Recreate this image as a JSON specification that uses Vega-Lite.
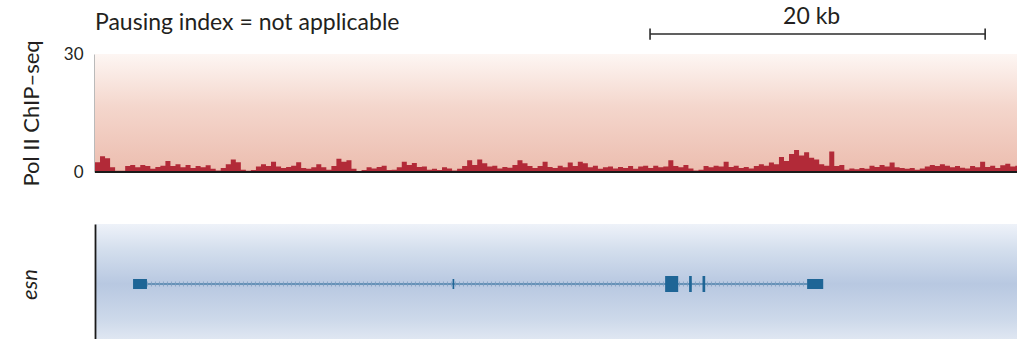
{
  "$schema": "https://vega.github.io/schema/vega-lite/v6.json",
  "background": "white",
  "padding": {"left": 18, "top": 6, "right": 0, "bottom": 0},
  "bounds": "flush",
  "spacing": 52,
  "config": {
    "font": "Lato",
    "view": {"stroke": null},
    "axis": {
      "grid": false,
      "ticks": false,
      "zindex": 1,
      "domainColor": "#1a1a1a",
      "domainWidth": 1.6,
      "labelColor": "#231f20",
      "titleColor": "#231f20",
      "labelFont": "Lato",
      "titleFont": "Lato",
      "labelFontSize": 17,
      "titleFontSize": 22,
      "titleFontWeight": "normal"
    }
  },
  "vconcat": [
    {
      "width": 922,
      "height": 118,
      "layer": [
        {
          "data": {"values": [{"start": 0, "end": 55, "low": 0, "high": 30}]},
          "mark": {
            "type": "rect",
            "fill": {
              "gradient": "linear",
              "x1": 0, "y1": 0, "x2": 0, "y2": 1,
              "stops": [
                {"offset": 0, "color": "#fdf6f3"},
                {"offset": 0.45, "color": "#f4d6cc"},
                {"offset": 1, "color": "#ecbdaf"}
              ]
            }
          },
          "encoding": {
            "x": {"field": "start", "type": "quantitative", "scale": {"domain": [0, 55]}, "axis": null},
            "x2": {"field": "end"},
            "y": {
              "field": "low", "type": "quantitative", "title": "Pol II ChIP–seq",
              "scale": {"domain": [0, 30]},
              "axis": {"values": [0, 30], "labelPadding": 12, "titlePadding": 20}
            },
            "y2": {"field": "high"}
          }
        },
        {
          "data": {"values": [
            {"pos": 0.0, "pol2": 2.5}, {"pos": 0.3, "pol2": 4.0}, {"pos": 0.6, "pol2": 3.5}, {"pos": 0.9, "pol2": 1.2},
            {"pos": 1.2, "pol2": 0.3}, {"pos": 1.5, "pol2": 0.3}, {"pos": 1.8, "pol2": 1.5}, {"pos": 2.1, "pol2": 1.8},
            {"pos": 2.4, "pol2": 1.2}, {"pos": 2.7, "pol2": 1.8}, {"pos": 3.0, "pol2": 1.5}, {"pos": 3.3, "pol2": 0.8},
            {"pos": 3.6, "pol2": 1.3}, {"pos": 3.9, "pol2": 1.6}, {"pos": 4.2, "pol2": 2.8}, {"pos": 4.5, "pol2": 1.5},
            {"pos": 4.8, "pol2": 2.0}, {"pos": 5.1, "pol2": 1.2}, {"pos": 5.4, "pol2": 1.8}, {"pos": 5.7, "pol2": 1.0},
            {"pos": 6.0, "pol2": 1.5}, {"pos": 6.3, "pol2": 1.2}, {"pos": 6.6, "pol2": 1.7}, {"pos": 6.9, "pol2": 0.8},
            {"pos": 7.2, "pol2": 0.4}, {"pos": 7.5, "pol2": 1.0}, {"pos": 7.8, "pol2": 2.0}, {"pos": 8.1, "pol2": 3.2},
            {"pos": 8.4, "pol2": 2.5}, {"pos": 8.7, "pol2": 0.6}, {"pos": 9.0, "pol2": 0.3}, {"pos": 9.3, "pol2": 0.5},
            {"pos": 9.6, "pol2": 1.4}, {"pos": 9.9, "pol2": 2.0}, {"pos": 10.2, "pol2": 1.5}, {"pos": 10.5, "pol2": 2.6},
            {"pos": 10.8, "pol2": 1.4}, {"pos": 11.1, "pol2": 1.0}, {"pos": 11.4, "pol2": 1.3}, {"pos": 11.7, "pol2": 1.6},
            {"pos": 12.0, "pol2": 2.5}, {"pos": 12.3, "pol2": 1.0}, {"pos": 12.6, "pol2": 0.8}, {"pos": 12.9, "pol2": 1.2},
            {"pos": 13.2, "pol2": 2.0}, {"pos": 13.5, "pol2": 1.2}, {"pos": 13.8, "pol2": 0.6}, {"pos": 14.1, "pol2": 1.5},
            {"pos": 14.4, "pol2": 3.4}, {"pos": 14.7, "pol2": 2.6}, {"pos": 15.0, "pol2": 3.0}, {"pos": 15.3, "pol2": 0.8},
            {"pos": 15.6, "pol2": 0.2}, {"pos": 15.9, "pol2": 0.5}, {"pos": 16.2, "pol2": 1.2}, {"pos": 16.5, "pol2": 0.9},
            {"pos": 16.8, "pol2": 1.3}, {"pos": 17.1, "pol2": 1.6}, {"pos": 17.4, "pol2": 0.5}, {"pos": 17.7, "pol2": 0.6},
            {"pos": 18.0, "pol2": 1.2}, {"pos": 18.3, "pol2": 2.6}, {"pos": 18.6, "pol2": 1.8}, {"pos": 18.9, "pol2": 2.3},
            {"pos": 19.2, "pol2": 1.3}, {"pos": 19.5, "pol2": 1.4}, {"pos": 19.8, "pol2": 0.6}, {"pos": 20.1, "pol2": 0.8},
            {"pos": 20.4, "pol2": 0.5}, {"pos": 20.7, "pol2": 1.2}, {"pos": 21.0, "pol2": 0.9}, {"pos": 21.3, "pol2": 0.4},
            {"pos": 21.6, "pol2": 0.8}, {"pos": 21.9, "pol2": 1.5}, {"pos": 22.2, "pol2": 3.0}, {"pos": 22.5, "pol2": 1.8},
            {"pos": 22.8, "pol2": 3.2}, {"pos": 23.1, "pol2": 2.2}, {"pos": 23.4, "pol2": 1.4}, {"pos": 23.7, "pol2": 1.6},
            {"pos": 24.0, "pol2": 0.9}, {"pos": 24.3, "pol2": 1.3}, {"pos": 24.6, "pol2": 1.1}, {"pos": 24.9, "pol2": 1.8},
            {"pos": 25.2, "pol2": 3.0}, {"pos": 25.5, "pol2": 2.2}, {"pos": 25.8, "pol2": 1.5}, {"pos": 26.1, "pol2": 1.0},
            {"pos": 26.4, "pol2": 1.5}, {"pos": 26.7, "pol2": 2.6}, {"pos": 27.0, "pol2": 1.3}, {"pos": 27.3, "pol2": 1.0},
            {"pos": 27.6, "pol2": 1.6}, {"pos": 27.9, "pol2": 1.2}, {"pos": 28.2, "pol2": 2.4}, {"pos": 28.5, "pol2": 1.5},
            {"pos": 28.8, "pol2": 2.6}, {"pos": 29.1, "pol2": 2.2}, {"pos": 29.4, "pol2": 1.2}, {"pos": 29.7, "pol2": 1.6},
            {"pos": 30.0, "pol2": 0.8}, {"pos": 30.3, "pol2": 1.2}, {"pos": 30.6, "pol2": 1.4}, {"pos": 30.9, "pol2": 0.9},
            {"pos": 31.2, "pol2": 1.3}, {"pos": 31.5, "pol2": 1.0}, {"pos": 31.8, "pol2": 1.5}, {"pos": 32.1, "pol2": 0.8},
            {"pos": 32.4, "pol2": 1.4}, {"pos": 32.7, "pol2": 1.6}, {"pos": 33.0, "pol2": 1.0}, {"pos": 33.3, "pol2": 1.6},
            {"pos": 33.6, "pol2": 1.2}, {"pos": 33.9, "pol2": 1.4}, {"pos": 34.2, "pol2": 3.0}, {"pos": 34.5, "pol2": 1.5},
            {"pos": 34.8, "pol2": 1.2}, {"pos": 35.1, "pol2": 1.8}, {"pos": 35.4, "pol2": 0.9}, {"pos": 35.7, "pol2": 0.4},
            {"pos": 36.0, "pol2": 0.6}, {"pos": 36.3, "pol2": 1.5}, {"pos": 36.6, "pol2": 1.2}, {"pos": 36.9, "pol2": 1.6},
            {"pos": 37.2, "pol2": 1.4}, {"pos": 37.5, "pol2": 2.6}, {"pos": 37.8, "pol2": 1.3}, {"pos": 38.1, "pol2": 1.6},
            {"pos": 38.4, "pol2": 1.0}, {"pos": 38.7, "pol2": 1.3}, {"pos": 39.0, "pol2": 0.9}, {"pos": 39.3, "pol2": 1.5},
            {"pos": 39.6, "pol2": 2.0}, {"pos": 39.9, "pol2": 1.6}, {"pos": 40.2, "pol2": 2.4}, {"pos": 40.5, "pol2": 2.0},
            {"pos": 40.8, "pol2": 3.8}, {"pos": 41.1, "pol2": 2.8}, {"pos": 41.4, "pol2": 4.6}, {"pos": 41.7, "pol2": 5.6},
            {"pos": 42.0, "pol2": 4.2}, {"pos": 42.3, "pol2": 5.0}, {"pos": 42.6, "pol2": 3.6}, {"pos": 42.9, "pol2": 3.2},
            {"pos": 43.2, "pol2": 2.0}, {"pos": 43.5, "pol2": 1.6}, {"pos": 43.8, "pol2": 5.2}, {"pos": 44.1, "pol2": 1.5},
            {"pos": 44.4, "pol2": 1.8}, {"pos": 44.7, "pol2": 0.6}, {"pos": 45.0, "pol2": 0.9}, {"pos": 45.3, "pol2": 0.7},
            {"pos": 45.6, "pol2": 1.0}, {"pos": 45.9, "pol2": 0.8}, {"pos": 46.2, "pol2": 1.6}, {"pos": 46.5, "pol2": 1.3},
            {"pos": 46.8, "pol2": 1.8}, {"pos": 47.1, "pol2": 1.4}, {"pos": 47.4, "pol2": 2.4}, {"pos": 47.7, "pol2": 1.2},
            {"pos": 48.0, "pol2": 1.0}, {"pos": 48.3, "pol2": 0.8}, {"pos": 48.6, "pol2": 1.0}, {"pos": 48.9, "pol2": 0.6},
            {"pos": 49.2, "pol2": 0.9}, {"pos": 49.5, "pol2": 1.4}, {"pos": 49.8, "pol2": 1.8}, {"pos": 50.1, "pol2": 1.5},
            {"pos": 50.4, "pol2": 2.0}, {"pos": 50.7, "pol2": 1.6}, {"pos": 51.0, "pol2": 1.2}, {"pos": 51.3, "pol2": 1.5},
            {"pos": 51.6, "pol2": 1.1}, {"pos": 51.9, "pol2": 0.9}, {"pos": 52.2, "pol2": 1.5}, {"pos": 52.5, "pol2": 1.2},
            {"pos": 52.8, "pol2": 2.6}, {"pos": 53.1, "pol2": 1.3}, {"pos": 53.4, "pol2": 1.6}, {"pos": 53.7, "pol2": 1.0},
            {"pos": 54.0, "pol2": 1.7}, {"pos": 54.3, "pol2": 2.1}, {"pos": 54.6, "pol2": 1.4}, {"pos": 54.9, "pol2": 1.6},
            {"pos": 55.2, "pol2": 1.6}
          ]},
          "mark": {"type": "area", "interpolate": "step-after", "color": "#ad1d2e", "opacity": 0.92, "clip": true},
          "encoding": {
            "x": {"field": "pos", "type": "quantitative"},
            "y": {"field": "pol2", "type": "quantitative", "title": "Pol II ChIP–seq"}
          }
        },
        {
          "data": {"values": [{"start": 0, "end": 55}]},
          "mark": {"type": "rule", "color": "#1a1a1a", "strokeWidth": 1.8},
          "encoding": {
            "x": {"field": "start", "type": "quantitative"},
            "x2": {"field": "end"},
            "y": {"datum": 0, "type": "quantitative", "title": "Pol II ChIP–seq"}
          }
        },
        {
          "data": {"values": [{"start": 0, "note": "Pausing index = not applicable"}]},
          "mark": {"type": "text", "align": "left", "baseline": "alphabetic", "fontSize": 23, "color": "#231f20"},
          "encoding": {
            "x": {"field": "start", "type": "quantitative"},
            "y": {"datum": 36.1, "type": "quantitative", "title": "Pol II ChIP–seq"},
            "text": {"field": "note"}
          }
        },
        {
          "data": {"name": "scalebar"},
          "mark": {"type": "rule", "color": "#2b2b2b", "strokeWidth": 1.6},
          "encoding": {
            "x": {"field": "start", "type": "quantitative"},
            "x2": {"field": "end"},
            "y": {"datum": 35.1, "type": "quantitative", "title": "Pol II ChIP–seq"}
          }
        },
        {
          "data": {"name": "scalebar"},
          "mark": {"type": "rule", "color": "#2b2b2b", "strokeWidth": 1.6},
          "encoding": {
            "x": {"field": "start", "type": "quantitative"},
            "y": {"datum": 33.6, "type": "quantitative", "title": "Pol II ChIP–seq"},
            "y2": {"datum": 36.5}
          }
        },
        {
          "data": {"name": "scalebar"},
          "mark": {"type": "rule", "color": "#2b2b2b", "strokeWidth": 1.6},
          "encoding": {
            "x": {"field": "end", "type": "quantitative"},
            "y": {"datum": 33.6, "type": "quantitative", "title": "Pol II ChIP–seq"},
            "y2": {"datum": 36.5}
          }
        },
        {
          "data": {"name": "scalebar"},
          "mark": {"type": "text", "align": "center", "baseline": "alphabetic", "fontSize": 23, "color": "#231f20"},
          "encoding": {
            "x": {"field": "mid", "type": "quantitative"},
            "y": {"datum": 37.6, "type": "quantitative", "title": "Pol II ChIP–seq"},
            "text": {"field": "label"}
          }
        }
      ]
    },
    {
      "width": 922,
      "height": 120,
      "layer": [
        {
          "data": {"values": [{"start": 0, "end": 55, "low": -1, "high": 1}]},
          "mark": {
            "type": "rect",
            "fill": {
              "gradient": "linear",
              "x1": 0, "y1": 0, "x2": 0, "y2": 1,
              "stops": [
                {"offset": 0, "color": "#eef2f9"},
                {"offset": 0.22, "color": "#d3deed"},
                {"offset": 0.5, "color": "#b8c8e1"},
                {"offset": 0.8, "color": "#cdd9ea"},
                {"offset": 1, "color": "#e4eaf4"}
              ]
            }
          },
          "encoding": {
            "x": {"field": "start", "type": "quantitative", "scale": {"domain": [0, 55]}, "axis": null},
            "x2": {"field": "end"},
            "y": {
              "field": "low", "type": "quantitative", "title": "esn",
              "scale": {"domain": [-1, 1]},
              "axis": {
                "labels": false, "domain": true, "domainColor": "#1a1a1a", "domainWidth": 1.8,
                "domainOpacity": 1, "zindex": 2, "titleFontStyle": "italic", "titlePadding": 54
              }
            },
            "y2": {"field": "high"}
          }
        },
        {
          "data": {"name": "esn"},
          "transform": [{"filter": "datum.feature === 'intron'"}],
          "mark": {"type": "rule", "color": "#4a7fa8", "strokeWidth": 1.5},
          "encoding": {
            "x": {"field": "start", "type": "quantitative"},
            "x2": {"field": "end"},
            "y": {"datum": 0, "type": "quantitative", "title": "esn"}
          }
        },
        {
          "data": {"name": "esn"},
          "transform": [{"filter": "datum.feature === 'intron'"}],
          "mark": {"type": "rule", "color": "#7f9dc0", "strokeWidth": 5, "strokeDash": [1, 3], "opacity": 0.8},
          "encoding": {
            "x": {"field": "start", "type": "quantitative"},
            "x2": {"field": "end"},
            "y": {"datum": 0, "type": "quantitative", "title": "esn"}
          }
        },
        {
          "data": {"name": "esn"},
          "transform": [{"filter": "datum.feature === 'UTR'"}],
          "mark": {"type": "rule", "color": "#1e6596", "strokeWidth": 10, "strokeCap": "butt"},
          "encoding": {
            "x": {"field": "start", "type": "quantitative"},
            "x2": {"field": "end"},
            "y": {"datum": 0, "type": "quantitative", "title": "esn"}
          }
        },
        {
          "data": {"name": "esn"},
          "transform": [{"filter": "datum.feature === 'CDS'"}],
          "mark": {"type": "rule", "color": "#1e6596", "strokeWidth": 16, "strokeCap": "butt"},
          "encoding": {
            "x": {"field": "start", "type": "quantitative"},
            "x2": {"field": "end"},
            "y": {"datum": 0, "type": "quantitative", "title": "esn"}
          }
        }
      ]
    }
  ],
  "datasets": {
    "scalebar": [
      {"start": 33.11, "end": 53.1, "mid": 42.75, "label": "20 kb"}
    ],
    "esn": [
      {"feature": "intron", "start": 3.1, "end": 42.48},
      {"feature": "UTR", "start": 2.27, "end": 3.1},
      {"feature": "UTR", "start": 21.33, "end": 21.43},
      {"feature": "CDS", "start": 34.01, "end": 34.79},
      {"feature": "CDS", "start": 35.44, "end": 35.6},
      {"feature": "CDS", "start": 36.24, "end": 36.4},
      {"feature": "UTR", "start": 42.48, "end": 43.44}
    ]
  }
}
